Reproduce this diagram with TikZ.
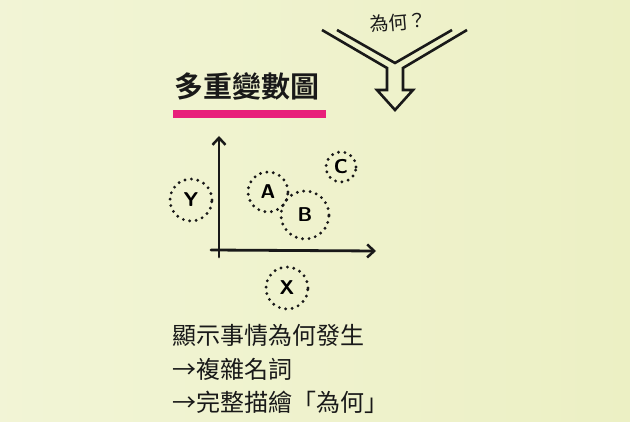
\documentclass[tikz,border=0pt]{standalone}
\usepackage{fontspec}
\newfontfamily\cjk{Noto Sans CJK TC}
\newfontfamily\cjkb{Noto Sans CJK TC Bold}
\usetikzlibrary{arrows.meta}
\definecolor{bgc}{RGB}{236,240,196}
\definecolor{ink}{RGB}{25,25,25}
\definecolor{pinkbar}{RGB}{232,32,122}
\begin{document}
\begin{tikzpicture}[x=1pt,y=-1pt,
  dotc/.style={circle,draw=ink,line width=3.2pt,dash pattern=on 0pt off 6.5pt,line cap=round,inner sep=0pt,font=\sffamily\bfseries\fontsize{20}{20}\selectfont},
  axis/.style={draw=ink,line width=2.8pt,line cap=round,-{Straight Barb[length=7pt,width=13pt,line width=2.5pt]}},
  txt/.style={anchor=west,font=\cjk\fontsize{24}{24}\selectfont,text=ink,inner sep=0pt}]
\fill[left color=bgc!70!white,right color=bgc] (0,0) rectangle (630,422);
\useasboundingbox (0,0) rectangle (630,422);
% top arrow
\draw[ink,line width=2.6pt,line join=miter] (322,30)--(387,68)--(387,90)--(377,90)--(395,110)--(413,90)--(403,90)--(403,68)--(467,30);
\draw[ink,line width=2.6pt] (337,30)--(395,63)--(452,30);
\node[font=\cjk\fontsize{19}{19}\selectfont,rotate=5,text=ink,inner sep=0pt] (why) at (398,22) {為何？};
% title
\node[anchor=west,font=\cjkb\fontsize{29}{29}\selectfont,text=ink,inner sep=0pt] (title) at (174,86) {多重變數圖};
\fill[pinkbar] (173,110) rectangle (326,118);
% axes
\coordinate (o) at (219,257);
\coordinate (yt) at (219,136);
\coordinate (xs) at (211,250);
\coordinate (xt) at (376,251);
\draw[axis] (o)--(yt);
\draw[axis] (xs)--(xt);
\node[dotc,minimum size=42pt] (Y) at (191,200) {Y};
\node[dotc,minimum size=40pt] (A) at (268,192) {A};
\node[dotc,minimum size=48pt] (B) at (305,215) {B};
\node[dotc,minimum size=30pt] (C) at (341,167) {C};
\node[dotc,minimum size=42pt] (X) at (287,288) {X};
% text
\node[txt] (l1) at (172,336) {顯示事情為何發生};
\node[txt] (l2) at (172,369) {→複雜名詞};
\node[txt] (l3) at (172,402) {→完整描繪「為何」};
\end{tikzpicture}
\end{document}
